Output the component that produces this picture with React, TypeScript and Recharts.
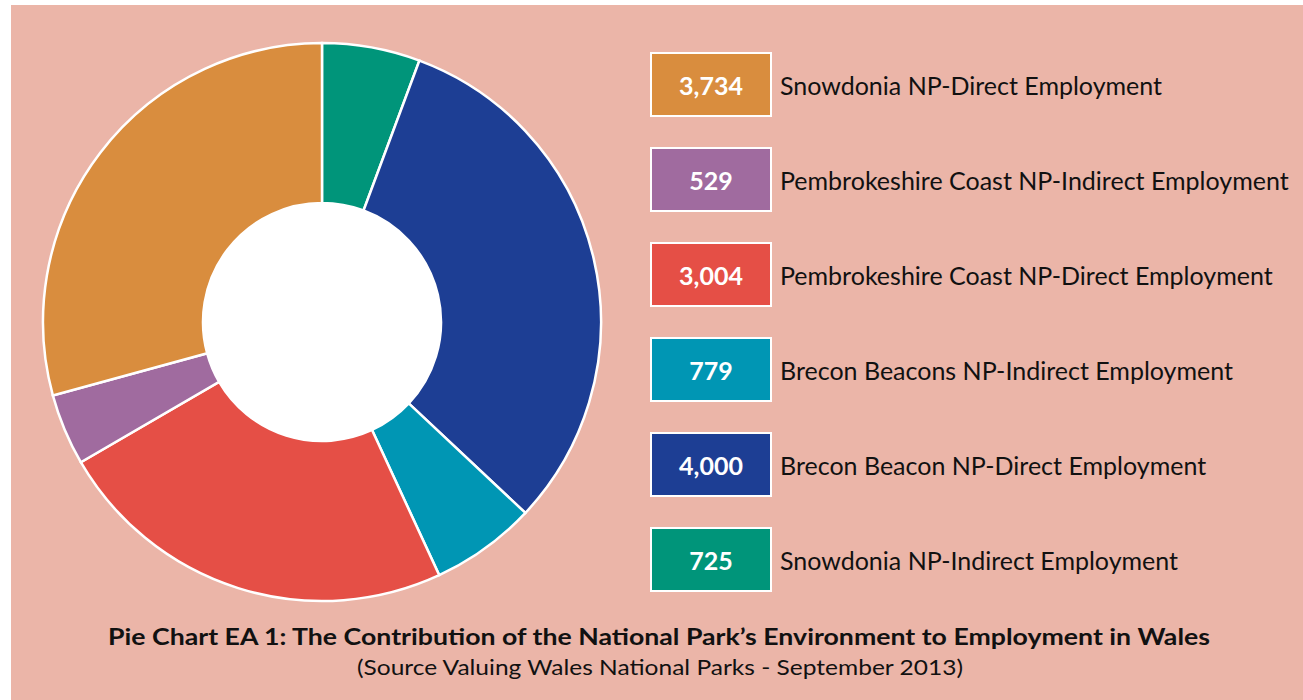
import React from "react";
import { PieChart, Pie, Cell } from "recharts";

const categories = [
  "Snowdonia NP-Indirect Employment",
  "Brecon Beacon NP-Direct Employment",
  "Brecon Beacons NP-Indirect Employment",
  "Pembrokeshire Coast NP-Direct Employment",
  "Pembrokeshire Coast NP-Indirect Employment",
  "Snowdonia NP-Direct Employment",
];
const values = [725, 4000, 779, 3004, 529, 3734];
const colors = ["#00957A", "#1D3E94", "#0096B4", "#E54F46", "#A06B9F", "#D98D3E"];
const titleText = "Pie Chart EA 1: The Contribution of the National Park\u2019s Environment to Employment in Wales";
const subtitleText = "(Source Valuing Wales National Parks - September 2013)";

const data = categories.map((name, i) => ({ name, value: values[i], color: colors[i] }));
const legendItems = [...data].reverse();

const BG = "#EBB5A8";
const FONT = "Lato, 'Open Sans', sans-serif";

export default function App() {
  return (
    <div style={{ position: "absolute", left: 0, top: 0, width: 1303, height: 700, background: "#fff", overflow: "hidden" }}>
      <div style={{ position: "absolute", left: 11, top: 5, width: 1292, height: 695, background: BG }} />
      <div
        style={{
          position: "absolute",
          left: 322 - 120,
          top: 322 - 120,
          width: 240,
          height: 240,
          borderRadius: "50%",
          background: "#fff",
        }}
      />
      <div style={{ position: "absolute", left: 0, top: 0 }}>
        <PieChart width={1303} height={700} margin={{ top: 0, right: 0, bottom: 0, left: 0 }}>
          <Pie
            data={data}
            dataKey="value"
            nameKey="name"
            cx={322}
            cy={322}
            innerRadius={119}
            outerRadius={279}
            startAngle={90}
            endAngle={-270}
            stroke="#ffffff"
            strokeWidth={2.5}
            isAnimationActive={false}
          >
            {data.map((d, i) => (
              <Cell key={i} fill={d.color} />
            ))}
          </Pie>
        </PieChart>
      </div>
      {legendItems.map((d, i) => (
        <div key={d.name}>
          <div
            style={{
              position: "absolute",
              left: 650,
              top: 52 + i * 95,
              width: 118,
              height: 61,
              border: "2px solid #fff",
              background: d.color,
              color: "#fff",
              fontFamily: FONT,
              fontWeight: 700,
              fontSize: 25,
              display: "flex",
              alignItems: "center",
              justifyContent: "center",
            }}
          >
            {d.value.toLocaleString("en-US")}
          </div>
          <div
            style={{
              position: "absolute",
              left: 780,
              top: 52 + i * 95,
              height: 65,
              display: "flex",
              alignItems: "center",
              fontFamily: FONT,
              fontSize: 25,
              color: "#111",
              whiteSpace: "nowrap",
            }}
          >
            {d.name}
          </div>
        </div>
      ))}
      <svg style={{ position: "absolute", left: 0, top: 0 }} width={1303} height={700}>
        <text
          x={659}
          y={645}
          textAnchor="middle"
          textLength={1102}
          lengthAdjust="spacingAndGlyphs"
          fontFamily={FONT}
          fontWeight={700}
          fontSize={22}
          fill="#111"
        >
          {titleText}
        </text>
        <text
          x={660}
          y={675}
          textAnchor="middle"
          textLength={606}
          lengthAdjust="spacingAndGlyphs"
          fontFamily={FONT}
          fontSize={22}
          fill="#111"
        >
          {subtitleText}
        </text>
      </svg>
    </div>
  );
}
